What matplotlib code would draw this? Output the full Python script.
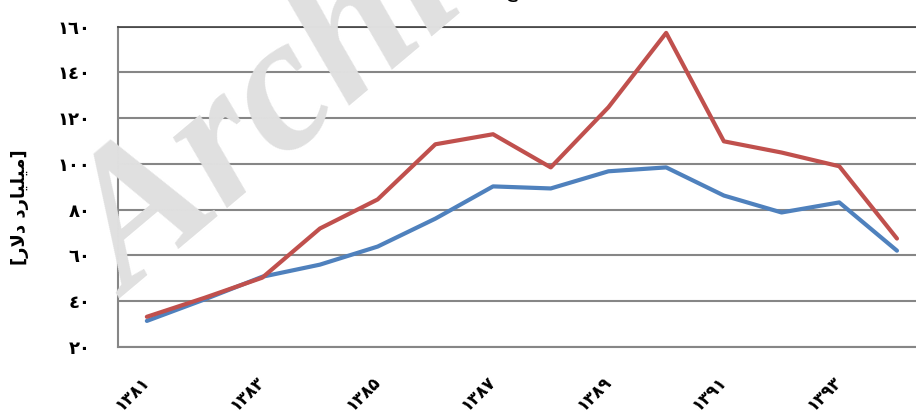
import matplotlib
matplotlib.use("Agg")
import matplotlib.pyplot as plt
import numpy as np

years = ["۱۳۸۱", "۱۳۸۲", "۱۳۸۳", "۱۳۸۴", "۱۳۸۵", "۱۳۸۶", "۱۳۸۷",
         "۱۳۸۸", "۱۳۸۹", "۱۳۹۰", "۱۳۹۱", "۱۳۹۲", "۱۳۹۳", "۱۳۹۴"]
red_values = [33.2, 41.5, 50.3, 71.8, 84.5, 108.6, 113.0,
              98.5, 124.8, 157.3, 109.9, 105.0, 99.0, 67.4]
blue_values = [31.4, 40.8, 50.7, 56.0, 63.9, 76.1, 90.2,
               89.3, 96.8, 98.5, 86.2, 78.8, 83.2, 62.1]
y_ticks = [20, 40, 60, 80, 100, 120, 140, 160]
y_tick_labels = ["٢٠", "٤٠", "٦٠", "٨٠", "١٠٠", "١٢٠", "١٤٠", "١٦٠"]

# matplotlib does no arabic shaping -> presentation forms in visual order
y_label = "[" + "\uFEAD\uFEFB\uFEA9" + " " + "\uFEA9\uFEAD\uFE8E\uFBFF\uFEE0\uFBFF\uFEE3" + "]"

fig = plt.figure(figsize=(9.16, 4.12), dpi=100)
ax = fig.add_axes([118 / 916, 1 - 347 / 412, 1 - 118 / 916, (347 - 26.7) / 412])

# watermark
fig.text(130 / 916, 1 - 298 / 412, "Archive", fontsize=138, family="Liberation Serif",
         fontweight="bold", fontstyle="italic", color="#e0e0e0", rotation=40,
         rotation_mode="anchor", ha="left", va="baseline", zorder=0)
ax.patch.set_alpha(0)

x = np.arange(len(years))
ax.plot(x, blue_values, color="#4F81BD", lw=3, solid_capstyle="round", zorder=3)
ax.plot(x, red_values, color="#C0504D", lw=3, solid_capstyle="round", zorder=4)

ax.set_xlim(-0.5, 13.33)
ax.set_ylim(20, 160)
ax.set_yticks(y_ticks)
ax.set_yticklabels(y_tick_labels, fontsize=13, fontweight="bold", family="DejaVu Sans")
ax.set_xticks(x[::2])
ax.set_xticklabels(years[::2], rotation=45, ha="right", va="center", rotation_mode="anchor",
                   fontsize=12, fontweight="bold", family="DejaVu Sans")
ax.tick_params(axis="y", length=0, pad=20)
ax.tick_params(axis="x", length=0, pad=23)

ax.grid(axis="y", color="#868686", lw=1.5, zorder=1)
ax.set_axisbelow(True)
ax.spines["right"].set_visible(False)
ax.spines["top"].set_color("#404040")
ax.spines["top"].set_linewidth(1.2)
ax.spines["left"].set_color("#868686")
ax.spines["left"].set_linewidth(1.5)
ax.spines["bottom"].set_color("#868686")
ax.spines["bottom"].set_linewidth(1.5)

fig.text(20 / 916, 1 - 207 / 412, y_label, rotation=90, fontsize=13, fontweight="bold",
         family="DejaVu Sans", ha="center", va="center")

# title, almost entirely above the visible area
fig.text(512 / 916, 1 + 3 / 412, "\uFEC9", fontsize=14, family="DejaVu Sans",
         ha="center", va="baseline")

fig.savefig("out.png", dpi=100)
